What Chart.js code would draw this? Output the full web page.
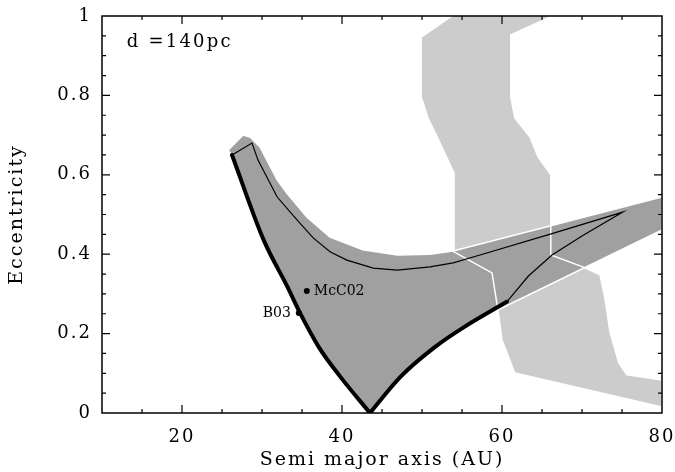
<!DOCTYPE html>
<html>
<head>
<meta charset="utf-8">
<script src="https://cdn.jsdelivr.net/npm/chart.js@4.4.1/dist/chart.umd.min.js"></script>
<style>
  html, body { margin: 0; padding: 0; background: #fff; }
  #wrap { width: 675px; height: 472px; }
</style>
</head>
<body>
<div id="wrap"><canvas id="c" width="675" height="472"></canvas></div>
<script>
// ---- Data ----
const xTickLabels = [20, 40, 60, 80];
const yTickLabels = ['0', '0.2', '0.4', '0.6', '0.8', '1'];
const yTickValues = [0, 0.2, 0.4, 0.6, 0.8, 1];

// light grey band
const bandX = [53.75, 49.9, 49.9, 50.75, 51.9, 54.0, 54.0, 58.75, 59.5, 60.0, 61.6, 80, 80, 75.6, 74.6, 73.5, 72.9, 72.25, 70.1, 66.1, 66.1, 64.5, 63.5, 61.6, 61.1, 61.1, 66.25];
const bandY = [1.0, 0.947, 0.796, 0.743, 0.695, 0.605, 0.406, 0.353, 0.259, 0.184, 0.101, 0.015, 0.083, 0.096, 0.126, 0.204, 0.285, 0.348, 0.368, 0.398, 0.600, 0.645, 0.695, 0.743, 0.796, 0.952, 1.0];

// dark grey region
const regionX = [43.5, 39.8, 37.1, 34.75, 33.2, 30.2, 26.25, 25.75, 27.6, 28.5, 29.0, 29.75, 31.9, 33.1, 35.6, 38.5, 42.6, 46.9, 51.0, 53.9, 80, 80, 60.75, 55.3, 51.6, 47.3, 43.5];
const regionY = [0.0, 0.091, 0.166, 0.252, 0.317, 0.436, 0.650, 0.662, 0.700, 0.695, 0.685, 0.670, 0.587, 0.554, 0.494, 0.443, 0.411, 0.398, 0.400, 0.408, 0.544, 0.461, 0.272, 0.217, 0.166, 0.091, 0.0];

// thin black loop
const thinX = [26.25, 28.75, 29.5, 31.9, 34.4, 36.4, 38.5, 40.6, 43.9, 46.9, 51.0, 53.9, 57.25, 66.25, 75.1, 70.1, 66.25, 63.3, 60.6];
const thinY = [0.650, 0.680, 0.637, 0.544, 0.486, 0.441, 0.406, 0.385, 0.365, 0.360, 0.368, 0.378, 0.398, 0.452, 0.506, 0.447, 0.398, 0.345, 0.280];

// thick black boundary (left branch, then right branch; they share the minimum)
const thickLeftX = [26.25, 30.2, 33.2, 34.75, 37.1, 39.8, 43.5];
const thickLeftY = [0.650, 0.436, 0.317, 0.252, 0.166, 0.091, 0.0];
const thickRightX = [43.5, 47.3, 51.6, 55.3, 60.6];
const thickRightY = [0.0, 0.091, 0.166, 0.217, 0.280];

// labelled points
const pointNames = ['McC02', 'B03'];
const pointX = [35.6, 34.6];
const pointY = [0.307, 0.252];

const annotationText = 'd =140pc';

// ---- helpers ----
const zip = (xs, ys) => xs.map((x, i) => ({ x: x, y: ys[i] }));
const FONT = "'DejaVu Serif', serif";

const spacingPlugin = {
  id: 'spacing',
  beforeDraw(chart) { chart.ctx.letterSpacing = '2px'; }
};

const framePlugin = {
  id: 'frameTicks',
  afterDatasetsDraw(chart) {
    const { ctx, chartArea: a, scales: { x, y } } = chart;
    ctx.save();
    ctx.strokeStyle = '#000';
    ctx.lineWidth = 1.5;
    ctx.strokeRect(a.left, a.top, a.right - a.left, a.bottom - a.top);
    ctx.lineWidth = 1.2;
    ctx.beginPath();
    for (let v = 15; v < 80; v += 5) {
      const px = x.getPixelForValue(v);
      const len = xTickLabels.includes(v) ? 8 : 4;
      ctx.moveTo(px, a.bottom); ctx.lineTo(px, a.bottom - len);
      ctx.moveTo(px, a.top); ctx.lineTo(px, a.top + len);
    }
    for (let k = 1; k < 20; k++) {
      const v = k * 0.05;
      const py = y.getPixelForValue(v);
      const len = (k % 4 === 0) ? 8 : 4;
      ctx.moveTo(a.left, py); ctx.lineTo(a.left + len, py);
      ctx.moveTo(a.right, py); ctx.lineTo(a.right - len, py);
    }
    ctx.stroke();

    ctx.fillStyle = '#000';
    ctx.letterSpacing = '0px';
    ctx.font = "14px " + FONT;
    ctx.textBaseline = 'middle';
    ctx.textAlign = 'left';
    ctx.fillText(pointNames[0], x.getPixelForValue(pointX[0]) + 7, y.getPixelForValue(pointY[0]));
    ctx.textAlign = 'right';
    ctx.fillText(pointNames[1], x.getPixelForValue(pointX[1]) - 8, y.getPixelForValue(pointY[1]));
    ctx.letterSpacing = '2.2px';
    ctx.font = "18px " + FONT;
    ctx.textAlign = 'left';
    ctx.textBaseline = 'alphabetic';
    ctx.fillText(annotationText, x.getPixelForValue(13.1), y.getPixelForValue(0.922));
    ctx.restore();
  }
};

const lineDs = (label, xs, ys, extra) => Object.assign({
  label: label, data: zip(xs, ys), showLine: true, pointRadius: 0, fill: false, tension: 0
}, extra);

new Chart(document.getElementById('c'), {
  type: 'scatter',
  data: {
    datasets: [
      { label: 'points', data: zip(pointX, pointY), pointRadius: 3, pointBackgroundColor: '#000', pointBorderWidth: 0, showLine: false, order: 0 },
      lineDs('thickLeft', thickLeftX, thickLeftY, { borderColor: '#000', borderWidth: 4, cubicInterpolationMode: 'monotone', borderCapStyle: 'round', order: 1 }),
      lineDs('thickRight', thickRightX, thickRightY, { borderColor: '#000', borderWidth: 4, cubicInterpolationMode: 'monotone', borderCapStyle: 'round', order: 1 }),
      lineDs('thin', thinX, thinY, { borderColor: '#000', borderWidth: 1.2, order: 2 }),
      lineDs('bandOutline', bandX, bandY, { borderColor: '#ffffff', borderWidth: 1.5, order: 3 }),
      lineDs('region', regionX, regionY, { borderColor: '#ffffff', borderWidth: 1.5, backgroundColor: '#a0a0a0', fill: 'shape', order: 4 }),
      lineDs('band', bandX, bandY, { borderWidth: 0, borderColor: 'rgba(0,0,0,0)', backgroundColor: '#cccccc', fill: 'shape', order: 5 })
    ]
  },
  options: {
    responsive: false,
    animation: false,
    events: [],
    layout: { padding: { left: 0, right: 13, top: 16, bottom: 0 } },
    plugins: { legend: { display: false }, tooltip: { enabled: false } },
    scales: {
      x: {
        type: 'linear', min: 10, max: 80, position: 'bottom',
        afterBuildTicks: s => { s.ticks = xTickLabels.map(v => ({ value: v })); },
        afterFit: s => { s.height = 59; s.paddingLeft = 0; s.paddingRight = 0; },
        grid: { display: false, drawTicks: false },
        border: { display: false },
        ticks: { color: '#000', font: { family: FONT, size: 18 }, padding: 14, maxRotation: 0, autoSkip: false, callback: v => String(v) },
        title: { display: true, text: 'Semi major axis (AU)', color: '#000', font: { family: FONT, size: 19 }, padding: { top: 0, bottom: 1 } }
      },
      y: {
        type: 'linear', min: 0, max: 1, position: 'left',
        afterBuildTicks: s => { s.ticks = yTickValues.map(v => ({ value: v })); },
        afterFit: s => { s.width = 102; s.paddingTop = 0; s.paddingBottom = 0; },
        grid: { display: false, drawTicks: false },
        border: { display: false },
        ticks: { color: '#000', font: { family: FONT, size: 18 }, padding: 10, autoSkip: false, callback: (v) => yTickLabels[yTickValues.indexOf(v)] },
        title: { display: true, text: 'Eccentricity', color: '#000', font: { family: FONT, size: 19 }, padding: { top: 6, bottom: 0 } }
      }
    }
  },
  plugins: [spacingPlugin, framePlugin]
});
</script>
</body>
</html>
